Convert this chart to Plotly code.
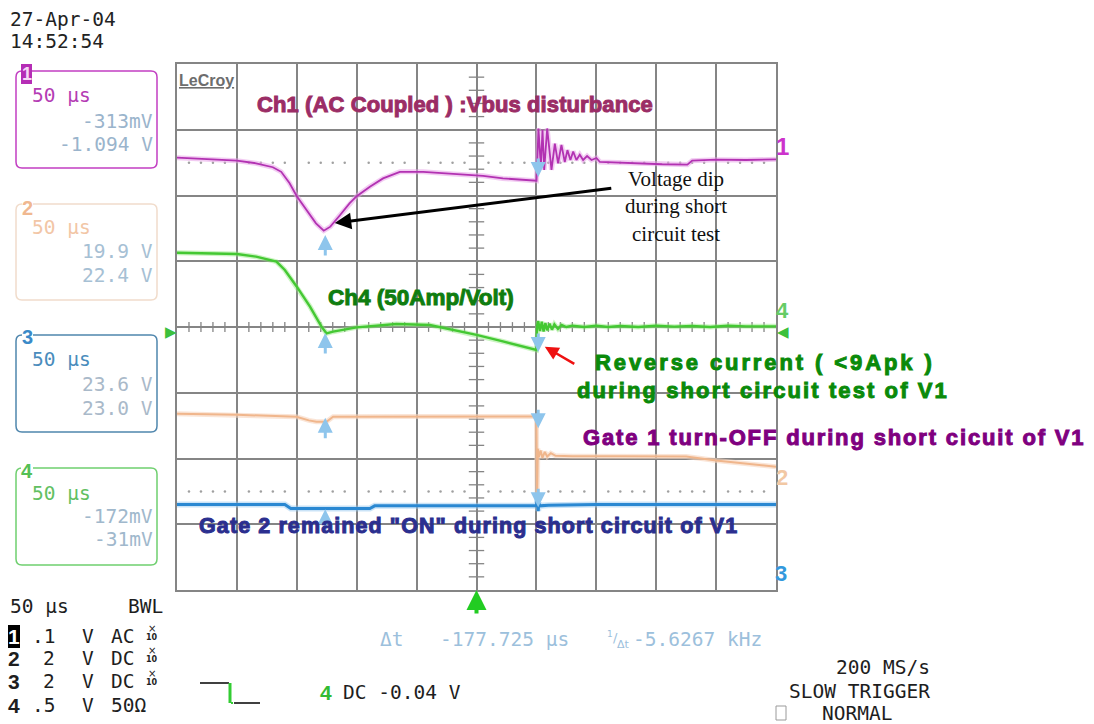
import plotly.graph_objects as go

# ---------------- data: time in µs (50 µs/div, trigger at 0), level in screen divisions from centre --------
ch1_t = [-250, -228, -200, -184, -170, -163, -156, -150, -142, -134, -127.5, -122, -114, -106, -100, -89, -78, -64, -44.5, -19.5, 5.5, 22, 50.1,
         50.9, 51.7, 53.7, 55.1, 56.5, 59.0, 62.6, 65.4, 68.1, 70.9, 73.7, 75.9, 78.4, 80.7, 83.4, 86.2, 89.0, 92.3, 96.0, 100.1, 103,
         120, 136, 155, 176, 180, 200, 225, 250]
ch1_v = [2.575, 2.555, 2.53, 2.49, 2.43, 2.36, 2.185, 1.99, 1.78, 1.577, 1.465, 1.526, 1.70, 1.88, 1.99, 2.134, 2.26, 2.36, 2.36, 2.327, 2.30, 2.26, 2.225,
         2.59, 3.02, 2.44, 3.00, 2.39, 3.02, 2.39, 2.79, 2.49, 2.77, 2.51, 2.69, 2.54, 2.67, 2.54, 2.62, 2.54, 2.60, 2.54, 2.57, 2.51,
         2.50, 2.48, 2.475, 2.47, 2.53, 2.545, 2.54, 2.55]

ch4_t = [-250, -225, -200, -184, -167, -160, -150, -139, -129.4, -125.2, -119.7, -100, -67, -39, -19.5, 0, 22, 50,
         50.6, 51.5, 53, 54.5, 56, 57.5, 59, 61, 63, 65, 68, 71, 75, 80, 90, 100, 110, 120, 135, 150, 165, 180, 195, 210, 225, 240, 250]
ch4_v = [1.13, 1.125, 1.11, 1.07, 0.994, 0.867, 0.613, 0.309, 0.005, -0.096, -0.071, -0.005, 0.046, 0.03, -0.046, -0.12, -0.22, -0.35,
         0.02, 0.09, -0.06, 0.08, -0.07, 0.06, -0.05, 0.05, -0.04, 0.04, -0.03, 0.03, 0.0, 0.02, 0.0, 0.02, 0.0, 0.015, 0.0, 0.02, 0.005, 0.015, 0.0, 0.02, 0.01, 0.015, 0.01]

ch2_t = [-250, -200, -150.3, -140, -133.6, -125.2, -119.7, -60, 0, 50, 50.6, 51.2, 52, 53.5, 55, 57, 59, 62, 66, 80, 120, 175, 200, 225, 250]
ch2_v = [-1.32, -1.335, -1.364, -1.42, -1.44, -1.44, -1.364, -1.36, -1.36, -1.36, -2.62, -1.85, -1.98, -1.88, -1.99, -1.90, -1.97, -1.92, -1.96,
         -1.965, -1.965, -1.97, -2.03, -2.08, -2.125]

ch3_t = [-250, -200, -160, -155, -120, -89, -85, 0, 45, 50, 51, 51.5, 52, 53, 60, 100, 150, 200, 250]
ch3_v = [-2.70, -2.70, -2.70, -2.76, -2.76, -2.76, -2.72, -2.72, -2.72, -2.72, -2.60, -2.80, -2.68, -2.72, -2.71, -2.70, -2.70, -2.70, -2.70]

cursor_t = [-126.225, 51.5]                 # Δt = -177.725 µs
cursor1_levels = [1.40, -0.09, -1.38, -2.77]  # arrows pointing up
cursor2_levels = [2.28, -0.38, -1.54, -2.74]  # arrows pointing down
ch4_offset_V, ch4_scale_V = -0.04, 0.5
ref_levels = [2.5, -2.5]

# ---------------- helpers ----------------
L, R, T, B = 177, 318, 64, 134
W, H = 1094, 724
PW, PH = W - L - R, H - T - B


def X(px):
    return (px - L) / PW


def Y(py):
    return (H - B - py) / PH


GRID = "#858585"
MONO = "DejaVu Sans Mono"
SANS = "Liberation Sans"
SERIF = "Liberation Serif"

fig = go.Figure()

# centre-line minor ticks and dotted reference lines
minor_t = [t for t in range(-240, 250, 10) if t % 50]
minor_v = [k * 0.2 for k in range(-19, 20) if k % 5]
fig.add_trace(go.Scatter(x=minor_t, y=[0] * len(minor_t), mode="markers",
                         marker=dict(symbol="line-ns-open", size=7, color=GRID, line=dict(color=GRID, width=1.3)),
                         hoverinfo="skip"))
fig.add_trace(go.Scatter(x=[0] * len(minor_v), y=minor_v, mode="markers",
                         marker=dict(symbol="line-ew-open", size=11, color=GRID, line=dict(color=GRID, width=1.3)),
                         hoverinfo="skip"))
for lv in ref_levels:
    fig.add_trace(go.Scatter(x=minor_t, y=[lv] * len(minor_t), mode="markers",
                             marker=dict(symbol="circle", size=2.5, color="#a0a0a0"), hoverinfo="skip"))


def trace(t, v, color, width, halo, halo_w):
    fig.add_trace(go.Scatter(x=t, y=v, mode="lines", line=dict(color=halo, width=halo_w), hoverinfo="skip"))
    fig.add_trace(go.Scatter(x=t, y=v, mode="lines", line=dict(color=color, width=width), hoverinfo="skip"))


trace(ch2_t, ch2_v, "#f0b68c", 2.0, "rgba(246,212,188,0.6)", 5)
trace(ch3_t, ch3_v, "#2a88d2", 3.0, "rgba(150,200,240,0.5)", 6)
trace(ch4_t, ch4_v, "#44c833", 2.4, "rgba(140,230,120,0.45)", 5)
trace(ch1_t, ch1_v, "#b232b2", 1.8, "rgba(232,160,232,0.55)", 5)

ann = []
shapes = []

# ch4 offset markers on both edges
off_div = ch4_offset_V / ch4_scale_V
ann.append(dict(xref="paper", yref="y", x=X(171), y=off_div, text="▶", showarrow=False, xanchor="center",
                yanchor="middle", font=dict(family="DejaVu Sans", size=15, color="#3cc03c")))
ann.append(dict(xref="paper", yref="y", x=X(783), y=off_div, text="◀", showarrow=False, xanchor="center",
                yanchor="middle", font=dict(family="DejaVu Sans", size=15, color="#3cc03c")))

# cursor arrows
for lv in cursor1_levels:
    ann.append(dict(x=cursor_t[0], y=lv, ax=0, ay=22, showarrow=True, arrowhead=2, arrowsize=1,
                    arrowwidth=3, arrowcolor="#8ec5ec", text=""))
for lv in cursor2_levels:
    ann.append(dict(x=cursor_t[1], y=lv, ax=0, ay=-20, showarrow=True, arrowhead=2, arrowsize=1,
                    arrowwidth=3, arrowcolor="#8ec5ec", text=""))

# trigger arrow at bottom centre
ann.append(dict(x=0, y=-4, ax=0, ay=25, showarrow=True, arrowhead=2, arrowsize=1, arrowwidth=4,
                arrowcolor="#22cc22", text=""))

# black arrow to the dip, red arrow to the reverse current
ann.append(dict(x=-118.3, y=1.58, ax=278, ay=-35, showarrow=True, arrowhead=2, arrowsize=1.1,
                arrowwidth=3, arrowcolor="black", text=""))
ann.append(dict(x=57.0, y=-0.30, ax=31, ay=18, showarrow=True, arrowhead=2, arrowsize=1.1,
                arrowwidth=2.5, arrowcolor="#ee1111", text=""))


def txt(px, py, s, size, color, family=MONO, xanchor="left", yanchor="middle", **kw):
    d = dict(xref="paper", yref="paper", x=X(px), y=Y(py), text=s, showarrow=False,
             xanchor=xanchor, yanchor=yanchor, borderpad=0, borderwidth=0,
             font=dict(family=family, size=size, color=color))
    d.update(kw)
    ann.append(d)


def heavy(s, color, sp=0, sw=1.0):
    return '<b><span style="stroke:%s;stroke-width:%spx;letter-spacing:%spx">%s</span></b>' % (color, sw, sp, s)


# big annotation texts
C1, C4, CG, CP, CN = "#9b2d66", "#0f7d0f", "#0a8a0a", "#7f007f", "#2b2f8f"
txt(257, 104, heavy("Ch1 (AC Coupled ) :Vbus disturbance", C1, 0.1), 22, C1, SANS)
txt(328, 297, heavy("Ch4 (50Amp/Volt)", C4, 0), 22.5, C4, SANS)
txt(595, 362, heavy("Reverse current ( &lt;9Apk )", CG, 2.9), 22, CG, SANS)
txt(577, 390, heavy("during short circuit test of V1", CG, 2.1), 22, CG, SANS)
txt(583, 437, heavy("Gate 1 turn-OFF during short cicuit of V1", CP, 1.85), 22, CP, SANS)
txt(199, 526, heavy('Gate 2 remained "ON" during short circuit of V1', CN, 1.1), 21.5, CN, SANS)
txt(676, 206, "Voltage dip<br>during short<br>circuit test", 21, "#111111", SERIF, xanchor="center", align="center")

# LeCroy logo
txt(179, 80, "<b><u>LeCroy</u></b>", 16, "#6d6d6d", SANS)

# right-edge channel labels
txt(782, 146, "<b>1</b>", 24, "#cc33cc", SANS, xanchor="center")
txt(782, 310, "<b>4</b>", 22, "#66cc66", SANS, xanchor="center")
txt(782, 477, "<b>2</b>", 22, "#f2c8a4", SANS, xanchor="center")
txt(781, 573, "<b>3</b>", 22, "#3399dd", SANS, xanchor="center")

# date/time
txt(10, 20, "27-Apr-04", 19.5, "#222222")
txt(10, 42, "14:52:54", 19.5, "#222222")


def rrect(x0, y0, x1, y1, r, color):
    p = (f"M {X(x0 + r)},{Y(y0)} L {X(x1 - r)},{Y(y0)} Q {X(x1)},{Y(y0)} {X(x1)},{Y(y0 + r)} "
         f"L {X(x1)},{Y(y1 - r)} Q {X(x1)},{Y(y1)} {X(x1 - r)},{Y(y1)} L {X(x0 + r)},{Y(y1)} "
         f"Q {X(x0)},{Y(y1)} {X(x0)},{Y(y1 - r)} L {X(x0)},{Y(y0 + r)} Q {X(x0)},{Y(y0)} {X(x0 + r)},{Y(y0)} Z")
    shapes.append(dict(type="path", xref="paper", yref="paper", path=p, line=dict(color=color, width=1.5)))


# channel boxes
boxes = [
    (71, 168, "#c23ec2", "#b43cb4", ["-313mV", "-1.094 V"], "#9ab4cc", 96, [121, 144]),
    (204, 300, "#f1dccb", "#f2c6a6", ["19.9 V", "22.4 V"], "#a6c0d4", 227, [252, 275]),
    (335, 432, "#4f86ad", "#4a8cbc", ["23.6 V", "23.0 V"], "#a9b9c9", 360, [385, 408]),
    (468, 565, "#6fcf6f", "#62c062", ["-172mV", "-31mV"], "#a0b8cc", 493, [516, 539]),
]
for y0, y1, bc, tc, vals, vc, ty, vys in boxes:
    rrect(16, y0, 157, y1, 6, bc)
    txt(32, ty, "50 µs", 19.5, tc)
    for s, vy in zip(vals, vys):
        txt(153, vy, s, 19.5, vc, xanchor="right")

shapes.append(dict(type="rect", xref="paper", yref="paper", x0=X(21), x1=X(32), y0=Y(84), y1=Y(64),
                   fillcolor="#b52db5", line=dict(width=0)))
txt(26.5, 74, "<b>1</b>", 18, "#f6d8f6", SANS, xanchor="center")
txt(27, 208, "<b>2</b>", 20, "#f0b890", SANS, xanchor="center", bgcolor="white")
txt(27.5, 337, "<b>3</b>", 20, "#3a8ac8", SANS, xanchor="center", bgcolor="white")
txt(27, 471, "<b>4</b>", 20, "#55c055", SANS, xanchor="center", bgcolor="white")

# bottom-left settings table
DARK = "#1e1e1e"
txt(10, 606, "50 µs", 19.5, DARK)
txt(163, 606, "BWL", 19.5, DARK, xanchor="right")
rows = [(636, "1", ".1", "AC", True), (658, "2", "2", "DC", True), (681, "3", "2", "DC", True), (705, "4", ".5", "50Ω", False)]
for ry, num, sc, cp, x10 in rows:
    if num == "1":
        txt(14, ry, "<b>1</b>", 21, "white", SANS, xanchor="center", bgcolor="black")
    else:
        txt(14, ry, "<b>%s</b>" % num, 21, DARK, SANS, xanchor="center")
    txt(55, ry, sc, 19.5, DARK, xanchor="right")
    txt(82, ry, "V", 19.5, DARK)
    txt(111, ry, cp, 19.5, DARK)
    if x10:
        txt(152, ry - 8, "×", 10, DARK, "DejaVu Sans", xanchor="center")
        txt(152, ry + 1, "<b>10</b>", 8, DARK, "DejaVu Sans", xanchor="center")

# trigger symbol
shapes.append(dict(type="line", xref="paper", yref="paper", x0=X(200), x1=X(229), y0=Y(683), y1=Y(683), line=dict(color="black", width=1.5)))
shapes.append(dict(type="line", xref="paper", yref="paper", x0=X(230), x1=X(230), y0=Y(683), y1=Y(703), line=dict(color="#33cc33", width=3)))
shapes.append(dict(type="line", xref="paper", yref="paper", x0=X(231), x1=X(233), y0=Y(703), y1=Y(703), line=dict(color="#33cc33", width=2)))
shapes.append(dict(type="line", xref="paper", yref="paper", x0=X(234), x1=X(260), y0=Y(703), y1=Y(703), line=dict(color="black", width=1.5)))
txt(326, 692, "<b>4</b>", 21, "#33bb33", SANS, xanchor="center")
txt(343, 692, "DC -0.04 V", 19.5, DARK)

# cursor readout
LB = "#9cc0dc"
txt(380, 639, "Δt", 19.5, LB)
txt(440, 639, "-177.725 µs", 19.5, LB)
txt(607, 634, "1", 9, LB, "DejaVu Sans")
txt(613, 637, "/", 13, LB, "DejaVu Sans")
txt(617, 644, "Δt", 11, LB, "DejaVu Sans")
txt(633, 639, "-5.6267 kHz", 19.5, LB)

# acquisition status
txt(930, 667, "200 MS/s", 19.5, DARK, xanchor="right")
txt(930, 691, "SLOW TRIGGER", 19.5, DARK, xanchor="right")
txt(822, 713, "NORMAL", 19.5, DARK)
shapes.append(dict(type="rect", xref="paper", yref="paper", x0=X(776), x1=X(786), y0=Y(720), y1=Y(706),
                   line=dict(color="#9a9a9a", width=1), fillcolor="white"))

axis_common = dict(showgrid=True, gridcolor=GRID, gridwidth=1.5, zeroline=False, showline=True, mirror=True,
                   linecolor=GRID, linewidth=1.5, showticklabels=False, ticks="", fixedrange=True)
fig.update_layout(
    width=W, height=H, autosize=False,
    margin=dict(l=L, r=R, t=T, b=B, pad=0),
    paper_bgcolor="white", plot_bgcolor="white", showlegend=False,
    xaxis=dict(range=[-250, 250], dtick=50, tick0=0, **axis_common),
    yaxis=dict(range=[-4, 4], dtick=1, tick0=0, **axis_common),
    annotations=ann, shapes=shapes,
)

fig.write_html("out.html", config={"displayModeBar": False},
               post_script="document.body.style.margin='0';")
